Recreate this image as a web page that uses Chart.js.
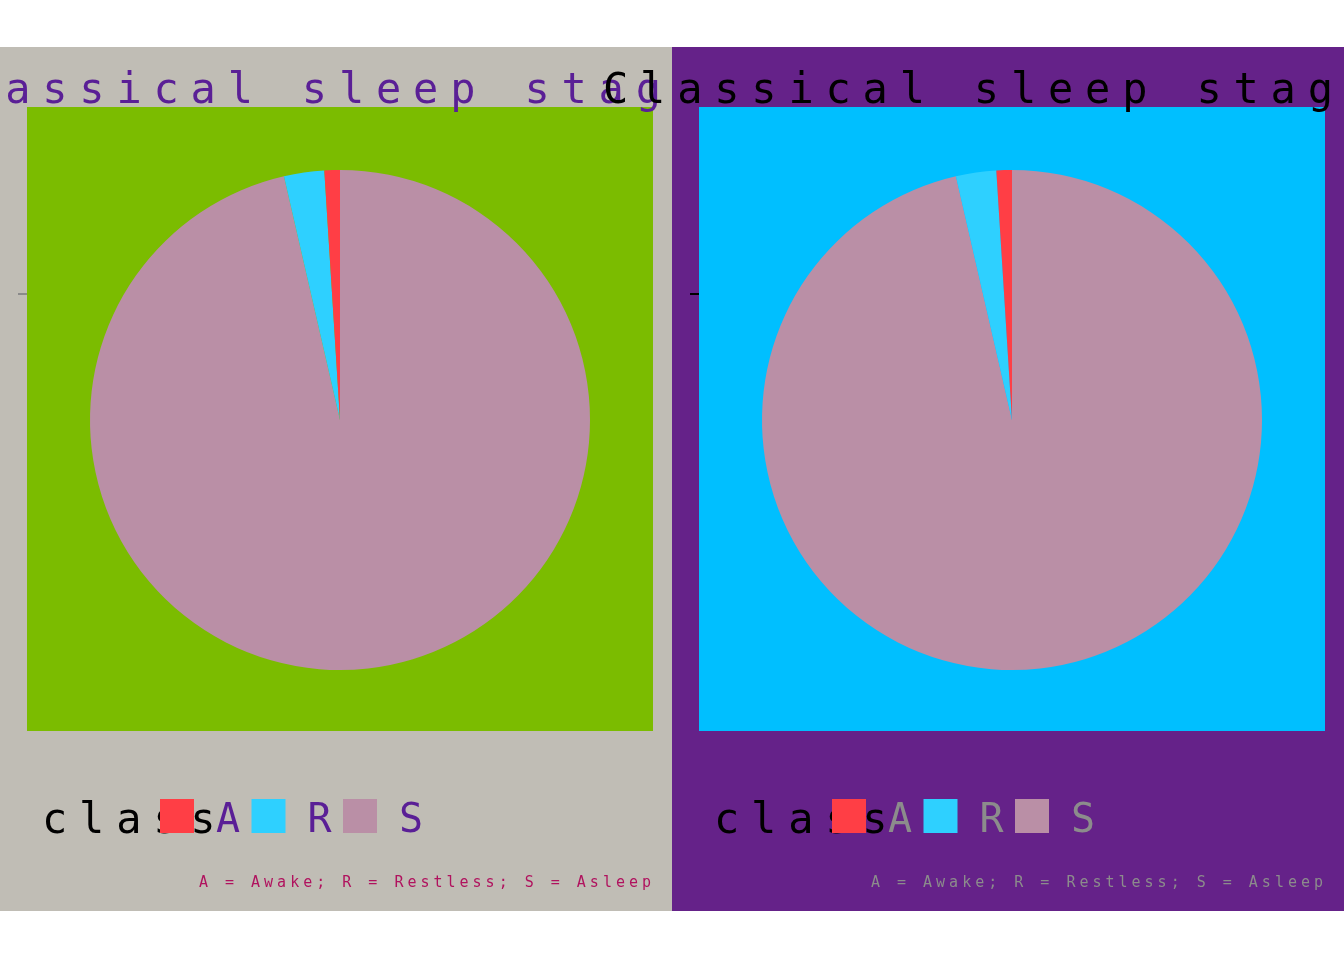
<!DOCTYPE html>
<html><head><meta charset="utf-8">
<script src="https://cdn.jsdelivr.net/npm/chart.js@4/dist/chart.umd.min.js"></script>
<style>
html,body{margin:0;padding:0;background:#fff;}
#wrap{position:relative;width:1344px;height:960px;overflow:hidden;}
canvas{position:absolute;top:47px;}
#cL{left:0;z-index:1}
#cR{left:602px;z-index:2}
</style></head><body>
<div id="wrap"><canvas id="cL" width="672" height="864"></canvas><canvas id="cR" width="742" height="864"></canvas></div>
<script>
const categories = ['A', 'R', 'S'];
const shares = [1.0, 2.6, 96.4];
const sliceColors = ['#FF3E45', '#2ED0FF', '#BA8FA6'];
const titleText = 'Classical sleep stages';
const legendTitle = 'class';
const captionText = 'A = Awake; R = Restless; S = Asleep';

const themes = {
  left:  { bgFrom: 0,  bg: '#C0BDB5', panel: '#7BBC00', title: '#5A1F96', legendText: '#5A1F96', legendTitle: '#000000', caption: '#B0125E', tick: '#8A8A8A' },
  right: { bgFrom: 70, bg: '#652289', panel: '#00BFFF', title: '#000000', legendText: '#8C8C8C', legendTitle: '#000000', caption: '#8C8C8C', tick: '#000000' }
};

const MONO = '"DejaVu Sans Mono", monospace';

const decorPlugin = {
  id: 'decor',
  beforeDraw(chart, args, opts) {
    const t = opts.theme, ctx = chart.ctx, ca = chart.chartArea;
    ctx.save();
    ctx.fillStyle = t.bg;
    ctx.fillRect(t.bgFrom, 0, chart.width - t.bgFrom, chart.height);
    ctx.fillStyle = t.panel;
    ctx.fillRect(ca.left - 63, ca.top - 63, ca.width + 126, ca.height + 124);
    const arc = chart.getDatasetMeta(0).data[0];
    const cy = arc ? arc.y : (ca.top + ca.bottom) / 2;
    const r = arc ? arc.outerRadius : ca.height / 2;
    ctx.fillStyle = t.tick;
    ctx.fillRect(ca.left - 72, cy - r * 0.504 - 1, 9, 2);
    ctx.restore();
  },
  afterDraw(chart, args, opts) {
    const t = opts.theme, ctx = chart.ctx, ca = chart.chartArea;
    const cx = (ca.left + ca.right) / 2;
    ctx.save();
    ctx.textBaseline = 'alphabetic';
    ctx.textAlign = 'left';
    // title
    ctx.font = '42px ' + MONO;
    ctx.letterSpacing = '11.8px';
    ctx.fillStyle = t.title;
    ctx.fillText(titleText, cx - 409, ca.top - 67);
    // legend title
    const pl = ca.left - 63;
    ctx.fillStyle = t.legendTitle;
    ctx.fillText(legendTitle, pl + 15, ca.bottom + 163);
    // legend keys
    ctx.letterSpacing = '0px';
    ctx.font = '40px ' + MONO;
    categories.forEach((c, i) => {
      const kx = pl + 133 + i * 91.5;
      ctx.fillStyle = sliceColors[i];
      ctx.fillRect(kx, ca.bottom + 129, 34, 34);
    });
    categories.forEach((c, i) => {
      const kx = pl + 133 + i * 91.5;
      ctx.fillStyle = t.legendText;
      ctx.fillText(c, kx + 56, ca.bottom + 162);
    });
    // caption
    ctx.font = '15px ' + MONO;
    ctx.letterSpacing = '4px';
    ctx.fillStyle = t.caption;
    const w = ctx.measureText(captionText).width;
    ctx.fillText(captionText, ca.right + 61 - w + 4, ca.bottom + 217);
    ctx.restore();
  }
};

function makeChart(id, theme, padLeft) {
  return new Chart(document.getElementById(id), {
    type: 'pie',
    data: {
      labels: categories.slice().reverse(),
      datasets: [{
        data: shares.slice().reverse(),
        backgroundColor: sliceColors.slice().reverse(),
        borderWidth: 0
      }]
    },
    options: {
      responsive: false,
      animation: false,
      devicePixelRatio: 1,
      layout: { padding: { left: padLeft, right: 82, top: 123, bottom: 241 } },
      plugins: {
        legend: { display: false },
        tooltip: { enabled: false },
        title: { display: false },
        decor: { theme: theme }
      }
    },
    plugins: [decorPlugin]
  });
}

makeChart('cL', themes.left, 90);
makeChart('cR', themes.right, 160);
</script>
</body></html>
